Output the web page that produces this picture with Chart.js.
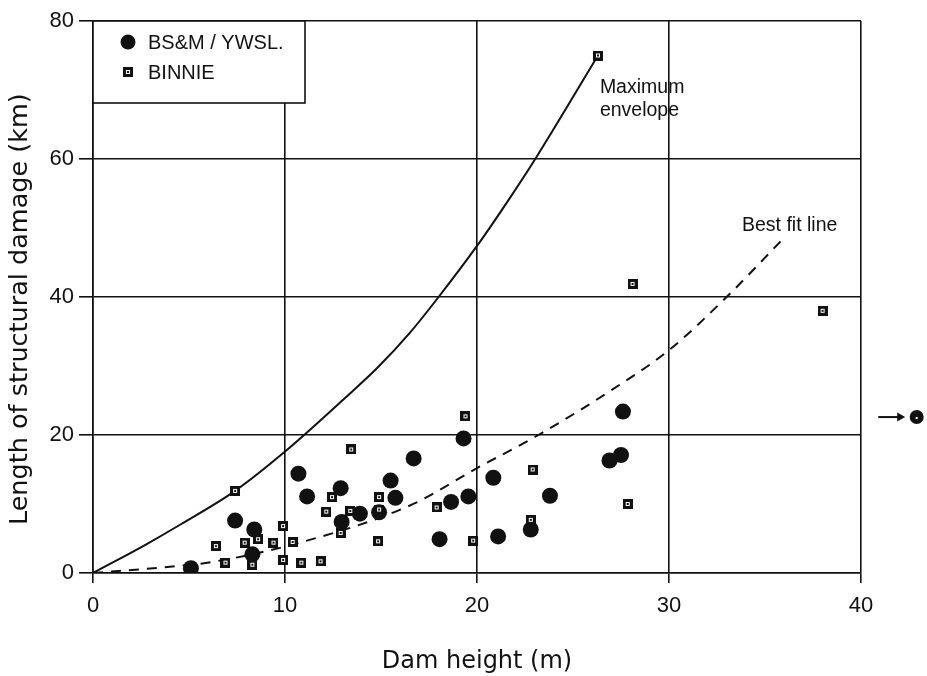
<!DOCTYPE html>
<html><head><meta charset="utf-8">
<script src="https://cdn.jsdelivr.net/npm/chart.js@4.4.0/dist/chart.umd.min.js"></script>
<style>html,body{margin:0;padding:0;background:#fff}#wrap{width:927px;height:676px}</style>
</head><body><div id="wrap"><canvas id="c" width="927" height="676"></canvas></div>
<script>
// ---- data ----
const bsmX = [5.1,7.4,8.4,8.3,10.7,11.15,12.9,12.95,13.9,14.9,15.5,15.75,16.7,18.05,18.65,19.3,19.55,20.85,21.1,22.8,23.8,26.9,27.5,27.6];
const bsmY = [0.7,7.6,6.3,2.7,14.4,11.1,12.3,7.4,8.6,8.8,13.4,10.9,16.6,4.9,10.3,19.5,11.1,13.8,5.3,6.3,11.2,16.3,17.1,23.4];
const binnieX = [6.4,6.9,7.4,7.9,8.3,8.6,9.4,9.9,9.9,10.4,10.85,11.85,12.15,12.45,12.9,13.4,13.45,14.85,14.9,14.9,17.9,19.4,19.8,22.8,22.9,26.3,27.85,28.1,38.0];
const binnieY = [3.9,1.5,11.9,4.4,1.2,4.9,4.4,6.8,1.9,4.5,1.5,1.7,8.9,11.0,5.8,9.0,17.9,4.6,11.0,9.2,9.5,22.7,4.7,7.7,15.0,75.0,10.0,41.9,38.0];
const envelopeX = [0,2.8,4.6,7.4,10,13.1,14.8,16.5,18,20,21.7,23.1,26.3];
const envelopeY = [0,4.2,7.1,11.9,17.6,25.3,29.7,34.8,40,47.4,54.3,60.3,75];
const bestFitX = [0,4,6.2,10.9,16.6,20,23.2,27,30,33,36.0];
const bestFitY = [0,0.9,1.6,4.5,9.9,15.2,20,26.5,32.3,40,48.6];
const offScaleX = [42.9];
const offScaleY = [22.6];
const arrowX = [40.9, 42.3];
const xTicks = [0,10,20,30,40];
const yTicks = [0,20,40,60,80];
const seriesNames = ['BS&M / YWSL.', 'BINNIE'];
const envelopeLabel = ['Maximum', 'envelope'];
const bestFitLabel = 'Best fit line';

const pts = (xs, ys) => xs.map((x, i) => ({x, y: ys[i]}));
const INK = '#111';
const FONT = "'Liberation Sans', Arial, Helvetica, sans-serif";
const TFONT = "'DejaVu Sans', 'Liberation Sans', sans-serif";

function makeSquare() {
  const c = document.createElement('canvas');
  c.width = 10; c.height = 10;
  const g = c.getContext('2d');
  g.fillStyle = INK; g.fillRect(0, 0, 10, 10);
  g.fillStyle = '#fff'; g.fillRect(3, 3, 4, 4);
  g.fillStyle = INK; g.fillRect(4, 4, 2, 2);
  return c;
}
const squareImg = makeSquare();

const legendBox = {
  id: 'legendBox',
  afterDatasetsDraw(chart) {
    const {ctx, chartArea: a} = chart;
    ctx.save();
    ctx.fillStyle = '#fff';
    ctx.fillRect(a.left, a.top, 212, 82);
    ctx.strokeStyle = INK; ctx.lineWidth = 1.6;
    ctx.strokeRect(a.left, a.top, 212, 82);
    ctx.fillStyle = INK; ctx.beginPath(); ctx.arc(a.left + 35, a.top + 21, 7.5, 0, Math.PI * 2); ctx.fill();
    ctx.drawImage(squareImg, a.left + 30, a.top + 46, 10, 10);
    ctx.font = '20px ' + FONT;
    ctx.textBaseline = 'middle'; ctx.textAlign = 'left';
    ctx.fillText(seriesNames[0], a.left + 55, a.top + 22);
    ctx.fillText(seriesNames[1], a.left + 55, a.top + 52);
    ctx.restore();
  }
};

const notes = {
  id: 'notes',
  afterDatasetsDraw(chart) {
    const {ctx, scales: {x, y}} = chart;
    ctx.save();
    ctx.fillStyle = INK; ctx.strokeStyle = INK;
    ctx.font = '19.5px ' + FONT;
    ctx.textBaseline = 'middle'; ctx.textAlign = 'left';
    ctx.fillText(envelopeLabel[0], x.getPixelForValue(26.4), y.getPixelForValue(70.3));
    ctx.fillText(envelopeLabel[1], x.getPixelForValue(26.4), y.getPixelForValue(67.0));
    ctx.fillText(bestFitLabel, x.getPixelForValue(33.8), y.getPixelForValue(50.3));
    // off-scale point with arrow, placed through the scales
    const py = y.getPixelForValue(offScaleY[0]);
    const x0 = x.getPixelForValue(arrowX[0]);
    const x1 = x.getPixelForValue(arrowX[1]);
    ctx.lineWidth = 2;
    ctx.beginPath(); ctx.moveTo(x0, py); ctx.lineTo(x1 - 6, py); ctx.stroke();
    ctx.beginPath(); ctx.moveTo(x1, py); ctx.lineTo(x1 - 8, py - 4.5); ctx.lineTo(x1 - 8, py + 4.5); ctx.closePath(); ctx.fill();
    const cx = x.getPixelForValue(offScaleX[0]);
    ctx.beginPath(); ctx.arc(cx, py, 7, 0, Math.PI * 2); ctx.fill();
    ctx.fillStyle = '#fff'; ctx.fillRect(cx - 1, py, 2, 2);
    ctx.restore();
  }
};

new Chart(document.getElementById('c'), {
  type: 'scatter',
  data: {
    datasets: [
      {label: seriesNames[0], data: pts(bsmX, bsmY), pointStyle: 'circle', pointRadius: 8, backgroundColor: INK, borderColor: INK, borderWidth: 0, order: 1},
      {label: seriesNames[1], data: pts(binnieX, binnieY), pointStyle: squareImg, pointRadius: 5, backgroundColor: INK, borderColor: INK, order: 0},
      {label: 'Maximum envelope', type: 'line', data: pts(envelopeX, envelopeY), borderColor: INK, borderWidth: 2, pointRadius: 0, fill: false, cubicInterpolationMode: 'monotone', order: 3},
      {label: 'Best fit line', type: 'line', data: pts(bestFitX, bestFitY), borderColor: INK, borderWidth: 2, borderDash: [10, 8], pointRadius: 0, fill: false, cubicInterpolationMode: 'monotone', order: 3}
    ]
  },
  options: {
    responsive: false,
    animation: false,
    layout: {padding: {top: 21, right: 66, left: 0, bottom: 0}},
    plugins: {legend: {display: false}, tooltip: {enabled: false}},
    scales: {
      x: {
        type: 'linear', min: 0, max: 40,
        afterBuildTicks: s => { s.ticks = xTicks.map(v => ({value: v})); },
        afterFit: s => { s.height = 103; },
        grid: {color: INK, lineWidth: 1.6, tickLength: 10, drawTicks: true},
        border: {color: INK, width: 1.6},
        ticks: {font: {family: FONT, size: 22}, color: INK, padding: 10, maxRotation: 0},
        title: {display: true, text: 'Dam height (m)', font: {family: TFONT, size: 24}, color: INK, padding: {top: 0, bottom: 0}}
      },
      y: {
        type: 'linear', min: 0, max: 80,
        afterBuildTicks: s => { s.ticks = yTicks.map(v => ({value: v})); },
        afterFit: s => { s.width = 93; },
        grid: {color: INK, lineWidth: 1.6, tickLength: 14, drawTicks: true},
        border: {color: INK, width: 1.6},
        ticks: {font: {family: FONT, size: 22}, color: INK, padding: 5},
        title: {display: true, text: 'Length of structural damage (km)   ', font: {family: TFONT, size: 25.5}, color: INK, padding: {top: 5, bottom: 0}}
      }
    }
  },
  plugins: [legendBox, notes]
});
</script>
</body></html>
